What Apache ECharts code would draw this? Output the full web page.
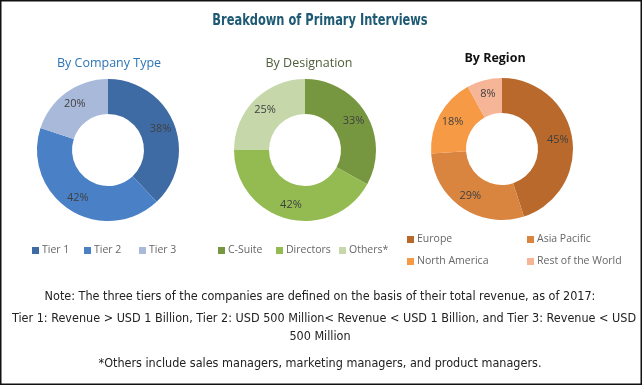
<!DOCTYPE html>
<html><head><meta charset="utf-8">
<script src="https://cdn.jsdelivr.net/npm/echarts@6/dist/echarts.min.js"></script>
<style>html,body{margin:0;padding:0;background:#fff}#c{width:643px;height:386px}</style>
</head><body><div id="c"></div>
<script>
const companyCats = ['Tier 1', 'Tier 2', 'Tier 3'];
const companyVals = [38, 42, 20];
const designationCats = ['C-Suite', 'Directors', 'Others*'];
const designationVals = [33, 42, 25];
const regionCats = ['Europe', 'Asia Pacific', 'North America', 'Rest of the World'];
const regionVals = [45, 29, 18, 8];
const noteLines = [
  'Note: The three tiers of the companies are defined on the basis of their total revenue, as of 2017:',
  'Tier 1: Revenue > USD 1 Billion, Tier 2: USD 500 Million< Revenue < USD 1 Billion, and Tier 3: Revenue < USD',
  '500 Million',
  '*Others include sales managers, marketing managers, and product managers.'
];

const companyColors = ['#3E6BA4', '#4A80C6', '#A8B9D9'];
const designationColors = ['#76963F', '#93BB52', '#C6D8AA'];
const regionColors = ['#B9692B', '#D9843F', '#F79A46', '#F6B597'];

const chart = echarts.init(document.getElementById('c'), null, {renderer: 'canvas'});
const labelFont = "'Open Sans', 'Liberation Sans', sans-serif";
const narrow = "'DejaVu Sans Condensed', 'Liberation Sans', sans-serif";

function pie(name, cats, vals, colors, center) {
  return {
    type: 'pie', name, center, radius: [36, 71], startAngle: 90, clockwise: true,
    avoidLabelOverlap: false, silent: true,
    data: cats.map((c, i) => ({name: c, value: vals[i], itemStyle: {color: colors[i]}})),
    label: {show: true, position: 'inside', formatter: '{c}%', color: '#404040', fontSize: 11, fontFamily: labelFont},
    labelLine: {show: false}
  };
}

function oneLegend(name, left, top) {
  return {
    data: [name], left, top, orient: 'horizontal', icon: 'rect', itemWidth: 7, itemHeight: 7,
    selectedMode: false, padding: 0,
    textStyle: {color: '#666', fontSize: 10.5, fontFamily: labelFont, padding: [0, 0, 0, -2]}
  };
}

const legends = [];
[[companyCats, [32, 84, 139], [245, 245, 245]],
 [designationCats, [218, 276, 339], [245, 245, 245]],
 [regionCats, [407, 527, 407, 527], [234, 234, 256, 256]]].forEach(([cats, xs, ys]) => {
  cats.forEach((c, i) => legends.push(oneLegend(c, xs[i], ys[i])));
});

const noteY = [297, 319, 337, 364];

chart.setOption({
  animation: false,
  title: [
    {text: 'By Company Type', left: 104, top: 52, textAlign: 'center',
     textStyle: {fontFamily: labelFont, fontWeight: 'normal', fontSize: 12.5, color: '#2E74B5'}},
    {text: 'By Designation', left: 304, top: 52, textAlign: 'center',
     textStyle: {fontFamily: labelFont, fontWeight: 'normal', fontSize: 12.5, color: '#4F5D3A'}},
    {text: 'By Region', left: 490, top: 47, textAlign: 'center',
     textStyle: {fontFamily: labelFont, fontWeight: 'bold', fontSize: 12.5, color: '#111'}}
  ],
  legend: legends,
  series: [
    pie('By Company Type', companyCats, companyVals, companyColors, [108, 150]),
    pie('By Designation', designationCats, designationVals, designationColors, [305, 150]),
    pie('By Region', regionCats, regionVals, regionColors, [502, 149])
  ],
  graphic: [
    {type: 'rect', shape: {x: 0.75, y: 0.75, width: 640.5, height: 383.5}, style: {fill: 'none', stroke: '#111', lineWidth: 1.5}, silent: true},
    {type: 'text', x: 320, y: 21, scaleX: 0.82, style: {text: 'Breakdown of Primary Interviews', fontFamily: narrow, fontWeight: 'bold', fontSize: 15.5, fill: '#1E5A74', align: 'center', verticalAlign: 'middle'}}
  ].concat(noteLines.map((t, i) => ({
    type: 'text', x: i === 1 ? 324 : 320, y: noteY[i],
    style: {text: t, fontFamily: narrow, fontSize: 12.5, fill: '#222', align: 'center', verticalAlign: 'middle'}
  })))
});
</script></body></html>
